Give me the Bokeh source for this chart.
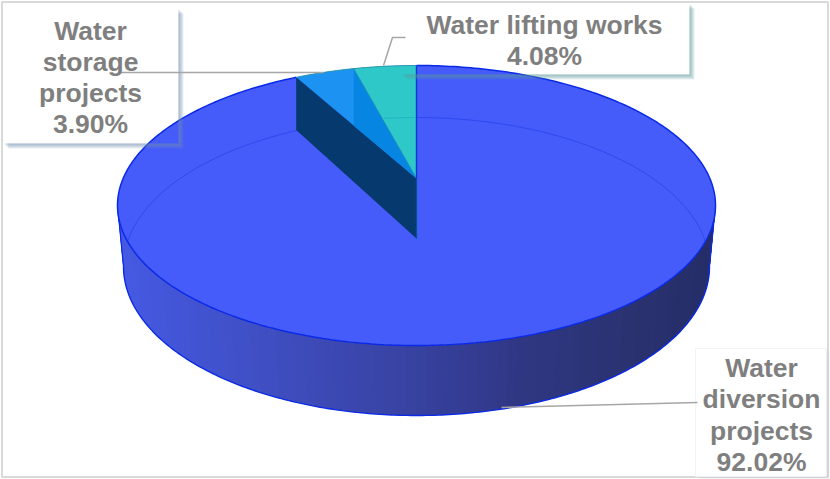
import numpy as np
from bokeh.embed import file_html
from bokeh.models import Range1d
from bokeh.plotting import figure
from bokeh.resources import INLINE

# ---- data ----
categories = ["Water diversion projects", "Water lifting works", "Water storage projects"]
shares = [92.02, 4.08, 3.90]
label_lines = [["Water", "diversion", "projects"], ["Water lifting works"], ["Water", "storage", "projects"]]

# ---- projection of the 3D pie, in page pixels ----
CX = 416
TOP = dict(rx=299, cy=205, ry=140)
BOT = dict(rx=293, cy=266, ry=149)
APEX_Y, APEX_DEPTH = 178, 60
PERSP = 0.826


def rim(e, deg):
    """deg runs counter-clockwise from the top of the ellipse."""
    r = np.radians(deg)
    return CX - e["rx"] * np.sin(r), e["cy"] - e["ry"] * np.cos(r)


def arc(e, a, b, n=240):
    return rim(e, np.linspace(a, b, n))


t1 = shares[1] * 3.6 * PERSP
t2 = (shares[1] + shares[2]) * 3.6 * PERSP

p = figure(width=830, height=479, x_range=Range1d(0, 830), y_range=Range1d(479, 0),
           x_axis_type=None, y_axis_type=None, toolbar_location=None, output_backend="svg",
           min_border=0, background_fill_color="white", border_fill_color="white",
           outline_line_color=None)
p.grid.visible = False

# frame of the chart area
p.quad(left=1.5, right=827.5, top=1.5, bottom=476.5, fill_color="white", line_color="#d9d9d9", line_width=2)

# ---- label boxes ----
BOXES = [(3, 178, 8, 143, "#6f8fae", 0.16), (401, 689, 3, 74, "#5f9a9e", 0.16), (695, 826, 348, 476, "#c8c8d8", 0.05)]
for l, r, t, b, _, _ in BOXES:
    p.quad(left=l, right=r, top=t, bottom=b, fill_color="white", line_color="#f4f4f7" if l == 695 else None)

# ---- side wall, shaded strip by strip; each strip runs under the next ----
stops_x = [117, 300, 416, 520, 640, 715]
stops_rgb = np.array([[70, 90, 228], [62, 76, 186], [56, 66, 160], [48, 56, 132], [42, 50, 112], [38, 46, 104]])
edges = np.linspace(90, 270, 91)
step = edges[1] - edges[0]
for a, b in zip(edges[:-1], edges[1:]):
    end = min(b + step, 270)
    xa, ya = arc(TOP, a, end, 6)
    xb, yb = arc(BOT, end, a, 6)
    mid = rim(TOP, (a + b) / 2)[0]
    c = [int(np.interp(mid, stops_x, stops_rgb[:, k])) for k in range(3)]
    p.patch(list(xa) + list(xb), list(ya) + list(yb), fill_color="#%02x%02x%02x" % tuple(c), line_color=None)

edge = "#0a2ae6"
bx, by = arc(BOT, 90, 270)
p.line(bx, by, line_color=edge, line_width=1.4)
for deg in (90, 270):
    ax_, ay_ = rim(TOP, deg)
    bx_, by_ = rim(BOT, deg)
    p.line([ax_, bx_], [ay_, by_], line_color=edge, line_width=1.2)

# ---- top face ----
tx, ty = arc(TOP, 0, 360, 480)
p.patch(tx, ty, fill_color="#455cfb", line_color=None)

# back rim seen through the top face
gx, gy = arc(BOT, -90, 90, 300)
keep = gy < TOP["cy"] + TOP["ry"] * np.sqrt(np.clip(1 - ((gx - CX) / TOP["rx"]) ** 2, 0, 1))
p.line(gx[keep], gy[keep], line_color="#2f49ee", line_width=1)

# ---- wedges ----
x1, y1 = rim(TOP, t1)
x2, y2 = rim(TOP, t2)
wx, wy = rim(BOT, t2)
# storage slice top
sx, sy = arc(TOP, t1, t2, 30)
p.patch(list(sx) + [CX], list(sy) + [APEX_Y], fill_color="#1c93f2", line_color=None)
# cut wall seen below the storage slice
p.patch([x2, CX, CX, x2], [y2, APEX_Y, APEX_Y + APEX_DEPTH, wy], fill_color="#063a6e", line_color=None)
# inner wall seen through the slice
cross_y = y2 + (APEX_Y - y2) * (x1 - x2) / (CX - x2)
p.patch([x1, CX, x1], [y1, APEX_Y, cross_y], fill_color="#0686e2", line_color=None)
# lifting slice top
lx, ly = arc(TOP, 0, t1, 30)
p.patch(list(lx) + [CX], list(ly) + [APEX_Y], fill_color="#2ec8c8", line_color=None)
p.line([x1, CX], [y1, APEX_Y], line_color="#1a8fb8", line_width=1)
# back rim on the lifting slice
on_slice = (gx < CX) & (gx > x1 + (CX - x1) * (gy - y1) / (APEX_Y - y1))
p.line(gx[on_slice], gy[on_slice], line_color="#22b4c4", line_width=1)

# rim outlines
p.line(*arc(TOP, t2, 360, 420), line_color=edge, line_width=1.5)
p.line(*arc(TOP, 0, t2, 30), line_color="#2a9ab0", line_width=1)
p.line([CX, CX], [TOP["cy"] - TOP["ry"], APEX_Y], line_color="#0a3ad8", line_width=1.4)
p.line([CX, CX], [APEX_Y, APEX_Y + APEX_DEPTH], line_color="#05508f", line_width=1.2)

# ---- box shadows, on top of the pie ----
for l, r, t, b, col, alpha in BOXES:
    for d in range(1, 6):
        p.quad(left=l + d, right=r + d, top=b, bottom=b + d, fill_color=col, fill_alpha=alpha, line_color=None)
        p.quad(left=r, right=r + d, top=t + d, bottom=b, fill_color=col, fill_alpha=alpha, line_color=None)

# ---- leaders ----
lead = "#a6a6a6"
p.line([120, 323], [72, 72], line_color=lead, line_width=1.5)
p.line([405, 392, 383], [37, 37, 65], line_color=lead, line_width=1.5)
p.line([697, 501], [402, 407], line_color=lead, line_width=1.5)

# ---- labels ----
LABEL_POS = {0: (761, [367, 398.5, 430, 461]), 1: (544, [24, 55]), 2: (90, [30, 61, 92, 123])}
for i, (x, line_y) in LABEL_POS.items():
    lines = label_lines[i] + [f"{shares[i]:.2f}%"]
    p.text(x=[x] * len(lines), y=line_y, text=lines, text_align="center", text_baseline="middle",
           text_color="#7f7f7f", text_font_size="26.5px", text_font_style="bold",
           text_font={"value": "Liberation Sans"})

open("out.html", "w").write(file_html(p, INLINE))
